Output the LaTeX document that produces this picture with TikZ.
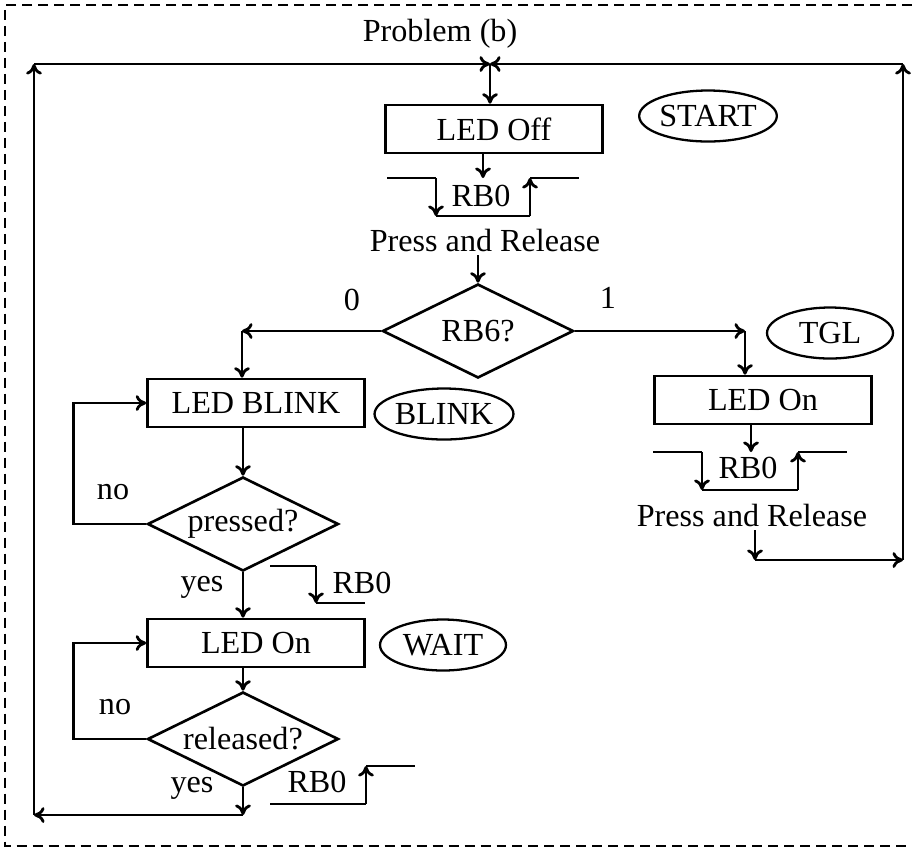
\documentclass[tikz,border=0pt]{standalone}
\usepackage{fontspec}
\setmainfont{Liberation Serif}
\usetikzlibrary{positioning,arrows.meta,shapes.geometric}

\begin{document}
\begin{tikzpicture}[x=0.02cm, y=-0.02cm, >={To[length=6pt,width=9pt]},
    font=\fontsize{18.3}{20}\selectfont,
    flow/.style={line width=1.6pt},
    stepbox/.style={draw, line width=1.5pt, minimum width=4.34cm, minimum height=0.96cm, inner sep=0pt},
    decision/.style={draw, diamond, aspect=2, line width=1.5pt, minimum width=3.82cm, minimum height=1.88cm, inner sep=0pt},
    state/.style={draw, ellipse, line width=1.3pt, minimum width=2.52cm, minimum height=1.02cm, inner sep=0pt},
    lbl/.style={inner sep=2pt}]

    % ================= FRAME =================
    \useasboundingbox (0,0) rectangle (912,850);
    \draw[line width=1pt, dash pattern=on 0.2cm off 0.12cm] (912,5) -- (5,5) -- (5,846) -- (912,846);
    \node[lbl] (title) at (440,34) {Problem (b)};

    % ================= START =================
    \coordinate (top) at (490,64);
    \coordinate (topleft) at (34,64);
    \coordinate (topright) at (903,64);
    \node[stepbox] (ledoff) at (494,129) {LED Off};
    \node[state] (start) at (708,116) {START};
    \draw[->, flow] (top) -- (top |- ledoff.north);

    % RB0 press and release
    \coordinate (p1) at (483,178);
    \draw[->, flow] (ledoff.south -| p1) -- (p1);
    \draw[flow] (387,178) -- (436,178);
    \draw[->, flow] (436,178) -- (436,216);
    \draw[flow] (436,216) -- (530,216);
    \draw[->, flow] (530,216) -- (530,178);
    \draw[flow] (530,178) -- (579,178);
    \node[lbl] (rbzero) at (481,196) {RB0};
    \node[lbl] (press) at (485,240) {Press and Release};

    % Decision RB6
    \node[decision] (rbsix) at (478,331) {RB6?};
    \draw[->, flow] (rbsix.north |- press.south) -- (rbsix.north);
    \node[lbl] (zero) at (352,300) {0};
    \node[lbl] (one) at (608,298) {1};
    \coordinate (cl) at (242,331);
    \coordinate (cr) at (745,331);

    % ================= TGL =================
    \node[state] (tgl) at (830,333) {TGL};
    \node[stepbox] (ledtgl) at (763,400) {LED On};
    \draw[->, flow] (rbsix.east) -- (cr);
    \draw[->, flow] (cr) -- (cr |- ledtgl.north);

    \coordinate (p2) at (751,452);
    \draw[->, flow] (ledtgl.south -| p2) -- (p2);
    \draw[flow] (653,452) -- (702,452);
    \draw[->, flow] (702,452) -- (702,490);
    \draw[flow] (702,490) -- (798,490);
    \draw[->, flow] (798,490) -- (798,452);
    \draw[flow] (798,452) -- (847,452);
    \node[lbl] (rbzerotgl) at (748,468) {RB0};
    \node[lbl] (presstgl) at (752,515) {Press and Release};

    \coordinate (p3) at (755,560);
    \coordinate (br) at (903,560);
    \draw[->, flow] (presstgl.south -| p3) -- (p3);
    \draw[->, flow] (p3) -- (br);
    \draw[->, flow] (br) -- (topright);
    \draw[->, flow] (topright) -- (top);

    % ================= BLINK =================
    \node[stepbox] (ledblink) at (256,403) {LED BLINK};
    \node[state] (blink) at (444,414) {BLINK};
    \draw[->, flow] (rbsix.west) -- (cl);
    \draw[->, flow] (cl) -- (cl |- ledblink.north);

    \node[decision] (pressed) at (243,524) {pressed?};
    \draw[->, flow] (ledblink.south -| pressed.north) -- (pressed.north);
    \draw[->, flow] (pressed.west) -- ++(-73,0) |- (ledblink.west);
    \node[lbl] (nopress) at (113,492) {no};
    \node[lbl] (yespress) at (202,587) {yes};

    % RB0 pressed
    \draw[flow] (270,566) -- (316,566);
    \draw[->, flow] (316,566) -- (316,603);
    \draw[flow] (316,603) -- (365,603);
    \node[lbl] (rbzerodown) at (362,583) {RB0};

    % ================= WAIT =================
    \node[stepbox] (ledwait) at (256,643) {LED On};
    \node[state] (wait) at (443,645) {WAIT};
    \draw[->, flow] (pressed.south) -- (pressed.south |- ledwait.north);

    \node[decision] (released) at (243,739) {released?};
    \draw[->, flow] (ledwait.south -| released.north) -- (released.north);
    \draw[->, flow] (released.west) -- ++(-73,0) |- (ledwait.west);
    \node[lbl] (norelease) at (115,707) {no};
    \node[lbl] (yesrelease) at (192,788) {yes};

    % RB0 released
    \draw[flow] (270,804) -- (366,804);
    \draw[->, flow] (366,804) -- (366,766);
    \draw[flow] (366,766) -- (415,766);
    \node[lbl] (rbzeroup) at (317,782) {RB0};

    % back to START
    \coordinate (p4) at (243,815);
    \coordinate (bl) at (34,815);
    \draw[->, flow] (released.south) -- (p4);
    \draw[->, flow] (p4) -- (bl);
    \draw[->, flow] (bl) -- (topleft);
    \draw[->, flow] (topleft) -- (top);

\end{tikzpicture}
\end{document}
